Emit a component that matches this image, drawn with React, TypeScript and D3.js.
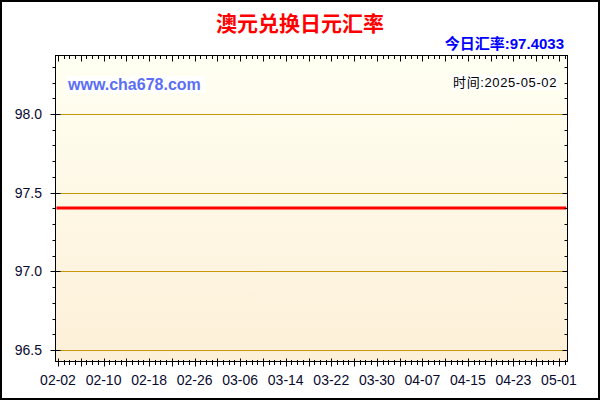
import { useEffect, useRef } from 'react';
import * as d3 from 'd3';

// daily AUD->JPY rate, 2025-02-02 .. 2025-05-02 (flat in the picture)
const START_DATE = '2025-02-02';
const RATES = [
  97.4033, 97.4033, 97.4033, 97.4033, 97.4033, 97.4033, 97.4033, 97.4033, 97.4033, 97.4033,
  97.4033, 97.4033, 97.4033, 97.4033, 97.4033, 97.4033, 97.4033, 97.4033, 97.4033, 97.4033,
  97.4033, 97.4033, 97.4033, 97.4033, 97.4033, 97.4033, 97.4033, 97.4033, 97.4033, 97.4033,
  97.4033, 97.4033, 97.4033, 97.4033, 97.4033, 97.4033, 97.4033, 97.4033, 97.4033, 97.4033,
  97.4033, 97.4033, 97.4033, 97.4033, 97.4033, 97.4033, 97.4033, 97.4033, 97.4033, 97.4033,
  97.4033, 97.4033, 97.4033, 97.4033, 97.4033, 97.4033, 97.4033, 97.4033, 97.4033, 97.4033,
  97.4033, 97.4033, 97.4033, 97.4033, 97.4033, 97.4033, 97.4033, 97.4033, 97.4033, 97.4033,
  97.4033, 97.4033, 97.4033, 97.4033, 97.4033, 97.4033, 97.4033, 97.4033, 97.4033, 97.4033,
  97.4033, 97.4033, 97.4033, 97.4033, 97.4033, 97.4033, 97.4033, 97.4033, 97.4033, 97.4033,
];
const Y_TICKS = [96.5, 97.0, 97.5, 98.0];
const X_LABELS = ['02-02', '02-10', '02-18', '02-26', '03-06', '03-14', '03-22', '03-30', '04-07', '04-15', '04-23', '05-01'];

const TITLE = '澳元兑换日元汇率';
const TODAY_TEXT = '今日汇率:97.4033';
const SITE = 'www.cha678.com';
const TIME_TEXT = '时间:2025-05-02';

const FONT = '"Liberation Sans", Arial, "Noto Sans CJK SC", sans-serif';
const CJK = '"Liberation Sans", "Noto Sans CJK SC", sans-serif';

export default function App() {
  const svgRef = useRef<SVGSVGElement>(null);

  useEffect(() => {
    if (!svgRef.current) return;
    const width = 600;
    const height = 400;
    const L = 55.5, R = 567.5, T = 55.5, B = 361.5;

    const parse = d3.timeParse('%Y-%m-%d');
    const start = parse(START_DATE) as Date;
    const data = RATES.map((v, i) => ({ date: d3.timeDay.offset(start, i), value: v }));
    const end = data[data.length - 1].date;

    const x = d3.scaleTime().domain([start, end]).range([58, 564.7]);
    const y = d3.scaleLinear().domain([96.427, 98.372]).range([B, T]);

    const svg = d3.select(svgRef.current);
    svg.selectAll('*').remove();

    const defs = svg.append('defs');
    const grad = defs.append('linearGradient').attr('id', 'bg').attr('x1', 0).attr('y1', 0).attr('x2', 0).attr('y2', 1);
    grad.append('stop').attr('offset', '0%').attr('stop-color', '#fffff2');
    grad.append('stop').attr('offset', '100%').attr('stop-color', '#fdf0d8');

    svg.append('rect').attr('x', 0).attr('y', 0).attr('width', width).attr('height', height).attr('fill', '#fff');
    svg.append('rect').attr('x', 1).attr('y', 1).attr('width', width - 2).attr('height', height - 2)
      .attr('fill', 'none').attr('stroke', '#000').attr('stroke-width', 2);

    svg.append('rect').attr('x', L).attr('y', T).attr('width', R - L).attr('height', B - T).attr('fill', 'url(#bg)');

    // grid
    svg.append('g').selectAll('line').data(Y_TICKS).join('line')
      .attr('x1', L).attr('x2', R - 3)
      .attr('y1', d => Math.round(y(d)) + 0.5).attr('y2', d => Math.round(y(d)) + 0.5)
      .attr('stroke', '#c8960a').attr('stroke-width', 1);

    // watermark + time
    const site = svg.append('g');
    site.append('rect').attr('x', 66).attr('y', 76).attr('width', 140).attr('height', 17).attr('fill', '#fff');
    site.append('text').attr('x', 68).attr('y', 90).attr('font-family', FONT).attr('font-weight', 'bold')
      .attr('font-size', 16).attr('fill', '#5b6ef5').text(SITE);

    const tm = svg.append('g');
    tm.append('rect').attr('x', 451).attr('y', 75).attr('width', 108).attr('height', 15).attr('fill', '#fff');
    tm.append('text').attr('x', 557).attr('y', 87).attr('text-anchor', 'end').attr('font-family', CJK)
      .attr('font-size', 13).attr('letter-spacing', 0.6).attr('fill', '#000').text(TIME_TEXT);

    // line
    const line = d3.line<{ date: Date; value: number }>().x(d => x(d.date)).y(d => y(d.value));
    svg.append('path').datum(data).attr('d', line).attr('fill', 'none')
      .attr('stroke', '#ff0000').attr('stroke-width', 3).attr('stroke-linecap', 'square');

    // frame
    svg.append('rect').attr('x', L).attr('y', T).attr('width', R - L).attr('height', B - T)
      .attr('fill', 'none').attr('stroke', '#000').attr('stroke-width', 1);

    const ticks = svg.append('g').attr('stroke', '#000').attr('stroke-width', 1);

    // y ticks
    const minorY = d3.range(965, 984).map(v => v / 10).filter(v => v <= 98.372);
    minorY.forEach(v => {
      const yy = Math.round(y(v)) + 0.5;
      const major = Math.abs(v * 2 - Math.round(v * 2)) < 1e-6;
      ticks.append('line').attr('x1', major ? L - 5 : L - 3).attr('x2', major ? L + 5 : L).attr('y1', yy).attr('y2', yy);
      ticks.append('line').attr('x1', major ? R - 5 : R - 3).attr('x2', R).attr('y1', yy).attr('y2', yy);
    });

    // x ticks
    data.forEach((d, i) => {
      const xx = Math.round(x(d.date)) + 0.5;
      const major = i % 4 === 0;
      ticks.append('line').attr('x1', xx).attr('x2', xx).attr('y1', major ? B - 3 : B - 1.5).attr('y2', major ? B + 5 : B + 3.5);
      ticks.append('line').attr('x1', xx).attr('x2', xx).attr('y1', T).attr('y2', major ? T + 6 : T + 3.5);
    });

    // labels
    svg.append('g').selectAll('text').data(Y_TICKS).join('text')
      .attr('x', 42).attr('y', d => y(d)).attr('dy', '0.36em').attr('text-anchor', 'end')
      .attr('font-family', FONT).attr('font-size', 14).attr('fill', '#0a0a30')
      .text(d => d3.format('.1f')(d));

    const fmt = d3.timeFormat('%m-%d');
    const labelled = data.filter(d => X_LABELS.includes(fmt(d.date)));
    svg.append('g').selectAll('text').data(labelled).join('text')
      .attr('x', d => x(d.date)).attr('y', 385).attr('text-anchor', 'middle')
      .attr('font-family', FONT).attr('font-size', 14).attr('fill', '#0a0a30')
      .text(d => fmt(d.date));

    svg.append('text').attr('x', 300).attr('y', 31).attr('text-anchor', 'middle')
      .attr('font-family', '"Noto Sans CJK SC", sans-serif').attr('font-weight', 'bold')
      .attr('font-size', 21).attr('fill', '#ff0000').text(TITLE);

    svg.append('text').attr('x', 564).attr('y', 49).attr('text-anchor', 'end')
      .attr('font-family', CJK).attr('font-weight', 'bold')
      .attr('font-size', 15).attr('fill', '#0000ff').text(TODAY_TEXT);
  }, []);

  return (
    <svg ref={svgRef} width={600} height={400}
      style={{ position: 'absolute', left: 0, top: 0, display: 'block' }} />
  );
}
